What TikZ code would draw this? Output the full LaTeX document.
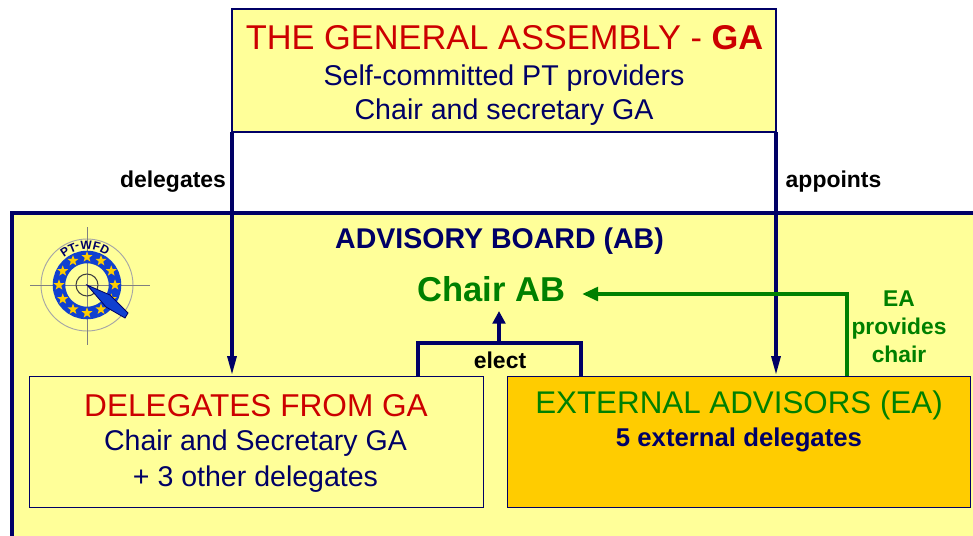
\documentclass[tikz,border=0pt]{standalone}
\usepackage{fontspec}
\setmainfont{Liberation Sans}
\usetikzlibrary{arrows.meta,shapes.geometric}
\definecolor{paleY}{HTML}{FFFF99}
\definecolor{navy}{HTML}{000066}
\definecolor{dgreen}{HTML}{008000}
\definecolor{dred}{HTML}{CC0000}
\definecolor{gold}{HTML}{FFCC00}
\definecolor{ringblue}{HTML}{1040D0}
\tikzset{
  panel/.style={draw=navy,anchor=north west,inner sep=0pt,outer sep=0pt},
  link/.style={draw=navy,line width=3pt},
  glink/.style={draw=dgreen,line width=3pt},
  tip/.style={-{Triangle[length=15pt,width=6.5pt]}},
  lbl/.style={inner sep=0pt,align=center,font=\fontsize{17.2pt}{19pt}\selectfont\bfseries},
}
\begin{document}
\begin{tikzpicture}[x=0.75pt,y=-0.75pt]
\useasboundingbox (0,0) rectangle (973,535);
\fill[white] (0,0) rectangle (973,535);
% board
\node[panel,fill=paleY,line width=3pt,minimum width=975pt*0.75,minimum height=340pt*0.75] (board) at (12,213) {};
% boxes
\node[panel,fill=paleY,line width=2pt,minimum width=544pt*0.75,minimum height=123pt*0.75] (ga) at (232,9) {};
\node[panel,fill=paleY,line width=0.6pt,minimum width=454pt*0.75,minimum height=131pt*0.75] (dl) at (29,376) {};
\node[panel,fill=gold,line width=0.6pt,minimum width=463pt*0.75,minimum height=131pt*0.75] (ea) at (507.5,376) {};
% texts
\node[lbl,font=\fontsize{25.8pt}{28pt}\selectfont,text=dred] (t1) at (504.5,37.5) {THE GENERAL ASSEMBLY - \textbf{GA}};
\node[lbl,font=\fontsize{21.45pt}{25pt}\selectfont,text=navy] (t2) at (504,95) {Self-committed PT providers\\Chair and secretary GA};
\node[lbl] (t3) at (173,182) {delegates};
\node[lbl] (t4) at (833.5,182) {appoints};
\node[lbl,font=\fontsize{21.4pt}{24pt}\selectfont\bfseries,text=navy] (t5) at (499.5,241) {ADVISORY BOARD (AB)};
\node[lbl,font=\fontsize{25.9pt}{28pt}\selectfont\bfseries,text=dgreen] (chair) at (491.5,289.5) {Chair AB};
\node[lbl,text=dgreen,font=\fontsize{17.1pt}{21pt}\selectfont\bfseries] (t6) at (899,326.5) {EA\\provides\\chair};
\node[lbl] (t7) at (500,360.5) {elect};
\node[lbl,font=\fontsize{23.7pt}{28pt}\selectfont,text=dred] (t8) at (256,406) {DELEGATES FROM GA};
\node[lbl,font=\fontsize{21.4pt}{26.5pt}\selectfont,text=navy] (t9) at (255.5,461) {Chair and Secretary GA\\+ 3 other delegates};
\node[lbl,font=\fontsize{23.5pt}{28pt}\selectfont,text=dgreen] (t10) at (739,405) {EXTERNAL ADVISORS (EA)};
\node[lbl,font=\fontsize{19.3pt}{22pt}\selectfont\bfseries,text=navy] (t11) at (739,439.5) {5 external delegates};
% connectors
\draw[link,tip] (ga.south west) -- (ga.south west |- dl.north);
\draw[link,tip] (ga.south east) -- (ga.south east |- ea.north);
\coordinate (eL) at (418,343);
\coordinate (eR) at (581,343);
\coordinate (eM) at (499,343);
\coordinate (eT) at (499,311);
\draw[link] (eL |- dl.north) -- (eL) -- (eR) -- (eR |- ea.north);
\draw[link,-{Triangle[length=9.5pt,width=9.5pt]}] (eM) -- (eT);
\coordinate (gc) at (847,294);
\coordinate (gd) at (582,294);
\draw[glink,-{Triangle[length=12pt,width=10pt]}] (gc |- ea.north) -- (gc) -- (gd);
% logo
\begin{scope}[shift={(87,285)}]
  \draw[gray!70,line width=0.7pt] (0,0) circle[radius=46];
  \draw[gray,line width=0.7pt] (-57,0) -- (63,0) (0,-58) -- (0,60);
  \draw[ringblue,line width=9.4pt] (0,0) circle[radius=28];
  \foreach \a in {0,30,...,330}
    \node[star,star points=5,star point ratio=2.4,fill=gold,inner sep=0pt,minimum size=8.5pt] at (\a+90:28) {};
  \draw[black!75,line width=0.8pt] (0,0) circle[radius=11];
  \fill[ringblue,draw=navy,line width=0.6pt] (0,0) -- (23,10) -- (41,28) -- (38,33) -- (19,22) -- cycle;
  \foreach \c/\a in {P/124,T/112,-/104,W/91,F/76,D/63}
    \node[text=navy,inner sep=0pt,rotate=\a-90,font=\fontsize{9pt}{9pt}\selectfont\bfseries] at (-\a:39.5) {\c};
\end{scope}
\end{tikzpicture}
\end{document}
